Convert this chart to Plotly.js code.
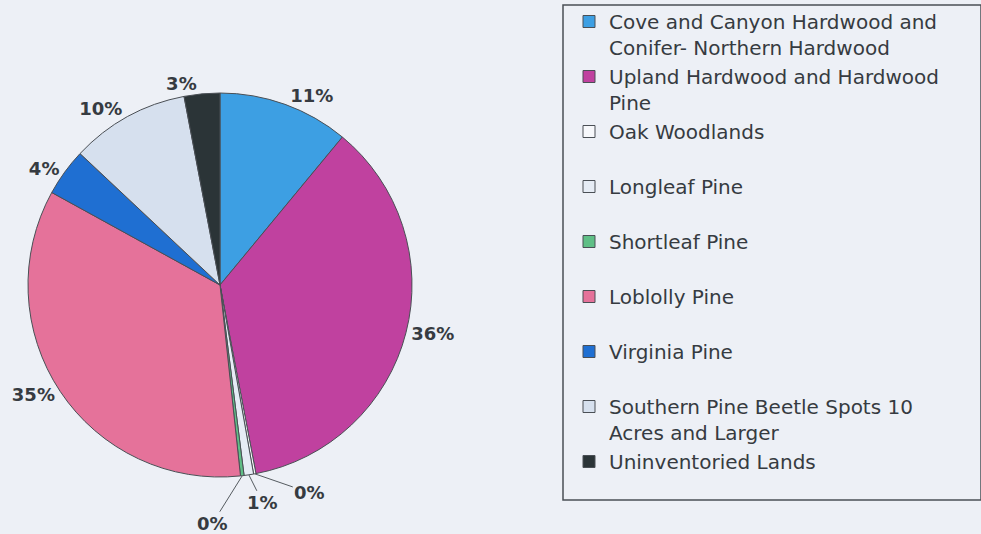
<!DOCTYPE html>
<html>
<head>
<meta charset="utf-8">
<script src="https://cdn.plot.ly/plotly-3.0.1.min.js"></script>
<style>
  html, body { margin: 0; padding: 0; background: #edf0f6; }
  #chart { width: 981px; height: 534px; }
</style>
</head>
<body>
<div id="chart"></div>
<script>
// ---- data ----
const categories = [
  'Cove and Canyon Hardwood and<br>Conifer- Northern Hardwood',
  'Upland Hardwood and Hardwood<br>Pine',
  'Oak Woodlands',
  'Longleaf Pine',
  'Shortleaf Pine',
  'Loblolly Pine',
  'Virginia Pine',
  'Southern Pine Beetle Spots 10<br>Acres and Larger',
  'Uninventoried Lands'
];
const shares = [11, 36, 0.2, 0.8, 0.3, 34.7, 4, 10, 3];
const sliceColors = ['#3d9fe3', '#c0419f', '#f7f8fb', '#e6ecf5', '#5fbf86', '#e5729a', '#1f6fd2', '#d6e0ee', '#2b3437'];

// ---- layout helpers ----
const W = 981, H = 534;
const pieDomX = [28 / W, 412 / W];
const pieDomY = [1 - 477 / H, 1 - 93 / H];
const textColor = '#363b41';

// legend labels: give every entry two lines so the spacing is uniform (as in the original)
const legendLabels = categories.map((c, i) =>
  (c.indexOf('<br>') < 0 && i < categories.length - 1) ? c + '<br>\u00a0' : c);

const total = shares.reduce((a, b) => a + b, 0);
const small = shares.map(v => v / total < 0.01);
const templates = small.map(s => s ? '' : '%{percent:.0%}');

// leader-line labels for tiny slices, positioned from the slice geometry
const cx = (pieDomX[0] + pieDomX[1]) / 2 * W;
const cy = (1 - (pieDomY[0] + pieDomY[1]) / 2) * H;
const r = Math.min((pieDomX[1] - pieDomX[0]) * W, (pieDomY[1] - pieDomY[0]) * H) / 2;
const offsets = { 2: [55, 19], 3: [14, 28], 4: [-30, 48] };
const annotations = [];
let cum = 0;
shares.forEach((v, i) => {
  const mid = (cum + v / 2) / total;
  cum += v;
  if (!small[i]) return;
  const th = 2 * Math.PI * mid;
  const px = cx + r * Math.sin(th);
  const py = cy - r * Math.cos(th);
  const off = offsets[i] || [20, 20];
  annotations.push({
    x: px / W, y: 1 - py / H, xref: 'paper', yref: 'paper',
    text: Math.round(v / total * 100) + '%',
    showarrow: true, arrowhead: 0, arrowwidth: 1, arrowcolor: '#555b60',
    ax: off[0], ay: off[1], standoff: 0,
    font: { family: 'DejaVu Sans', size: 18, color: textColor, weight: 'bold' }
  });
});

const trace = {
  type: 'pie',
  labels: legendLabels,
  values: shares,
  sort: false,
  direction: 'clockwise',
  rotation: 0,
  domain: { x: pieDomX, y: pieDomY },
  marker: { colors: sliceColors, line: { color: '#4a4f55', width: 1 } },
  texttemplate: templates,
  textposition: 'outside',
  outsidetextfont: { family: 'DejaVu Sans', size: 18, color: textColor, weight: 'bold' },
  hoverinfo: 'label+percent'
};

const layout = {
  width: W, height: H,
  margin: { l: 0, r: 0, t: 0, b: 0 },
  paper_bgcolor: '#edf0f6',
  plot_bgcolor: '#edf0f6',
  showlegend: true,
  legend: {
    x: 569 / W, xanchor: 'left',
    y: 1 - 2 / H, yanchor: 'top',
    bgcolor: 'rgba(0,0,0,0)', borderwidth: 0,
    valign: 'top',
    font: { family: 'DejaVu Sans', size: 20, color: textColor },
    traceorder: 'normal'
  },
  shapes: [{
    type: 'rect', xref: 'paper', yref: 'paper',
    x0: 563 / W, x1: 981 / W, y0: 1 - 500 / H, y1: 1 - 5 / H,
    line: { color: '#4a4f55', width: 1.5 }, fillcolor: 'rgba(0,0,0,0)'
  }],
  annotations: annotations
};

Plotly.newPlot('chart', [trace], layout, { displayModeBar: false, staticPlot: true });
</script>
</body>
</html>
